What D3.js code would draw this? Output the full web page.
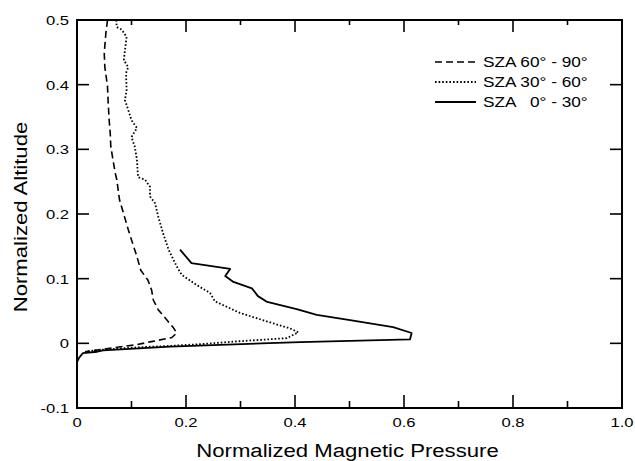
<!DOCTYPE html>
<html>
<head>
<meta charset="utf-8">
<script src="https://cdn.jsdelivr.net/npm/d3@7"></script>
<style>
  html, body { margin: 0; padding: 0; background: #fff; }
  svg { display: block; }
  text { font-family: "Liberation Sans", Arial, Helvetica, sans-serif; fill: #000; }
</style>
</head>
<body>
<svg id="chart" width="635" height="461"></svg>
<script>
// ---------------- data (normalized pressure, normalized altitude) ----------------
const sza6090 = [
  [0.056,0.500],[0.053,0.480],[0.050,0.449],[0.051,0.428],[0.056,0.397],[0.057,0.376],
  [0.059,0.345],[0.061,0.325],[0.062,0.304],[0.066,0.284],[0.070,0.264],[0.073,0.253],
  [0.078,0.222],[0.085,0.202],[0.094,0.176],[0.100,0.160],[0.110,0.134],[0.117,0.113],
  [0.130,0.098],[0.137,0.082],[0.140,0.067],[0.149,0.052],[0.165,0.036],[0.177,0.024],
  [0.183,0.016],[0.174,0.009],[0.139,0.003],[0.110,-0.002],[0.048,-0.009],[0.015,-0.013]
];
const sza3060 = [
  [0.072,0.500],[0.073,0.489],[0.082,0.485],[0.091,0.474],[0.088,0.453],[0.086,0.438],
  [0.094,0.427],[0.090,0.418],[0.091,0.392],[0.088,0.376],[0.094,0.361],[0.100,0.345],
  [0.110,0.333],[0.100,0.319],[0.106,0.304],[0.110,0.284],[0.112,0.257],[0.125,0.253],
  [0.134,0.242],[0.134,0.227],[0.143,0.217],[0.149,0.196],[0.158,0.170],[0.168,0.145],
  [0.183,0.119],[0.192,0.106],[0.220,0.090],[0.244,0.078],[0.253,0.065],[0.299,0.047],
  [0.348,0.034],[0.391,0.023],[0.406,0.017],[0.385,0.008],[0.293,0.003],[0.231,-0.001],
  [0.171,-0.004],[0.116,-0.006],[0.042,-0.010],[0.015,-0.013]
];
const sza0030 = [
  [0.189,0.145],[0.210,0.124],[0.281,0.115],[0.272,0.104],[0.287,0.095],[0.321,0.085],
  [0.332,0.073],[0.349,0.064],[0.403,0.053],[0.440,0.044],[0.501,0.036],[0.580,0.025],
  [0.614,0.016],[0.611,0.006],[0.409,0.002],[0.171,-0.005],[0.048,-0.011],[0.037,-0.013],
  [0.011,-0.015],[0.004,-0.022],[0.000,-0.029]
];
const seriesNames = ["SZA 60\u00b0 - 90\u00b0", "SZA 30\u00b0 - 60\u00b0", "SZA \u20070\u00b0 - 30\u00b0"];
const xTicks = [0, 0.1, 0.2, 0.3, 0.4, 0.5, 0.6, 0.7, 0.8, 0.9, 1.0];
const xTickLabels = ["0", "", "0.2", "", "0.4", "", "0.6", "", "0.8", "", "1.0"];
const yTicks = [-0.1, 0, 0.1, 0.2, 0.3, 0.4, 0.5];
const yTickLabels = ["-0.1", "0", "0.1", "0.2", "0.3", "0.4", "0.5"];
const xTitle = "Normalized Magnetic Pressure";
const yTitle = "Normalized Altitude";

// ---------------- layout ----------------
const L = 77, R = 622, T = 20, B = 408;
const SX = 1.23; // horizontal stretch of the lettering
const svg = d3.select("#chart");
svg.append("rect").attr("width", 635).attr("height", 461).attr("fill", "#fff");

const x = d3.scaleLinear().domain([0, 1]).range([L, R]);
const y = d3.scaleLinear().domain([-0.1, 0.5]).range([B, T]);

function stext(px, py, str, size, anchor, rot) {
  return svg.append("text")
    .attr("transform", `translate(${px},${py}) rotate(${rot || 0}) scale(${SX},1)`)
    .attr("text-anchor", anchor)
    .style("font-size", size + "px")
    .style("white-space", "pre")
    .text(str);
}

// ---------------- ticks (inward, on all four sides) ----------------
const isMajorX = (d, i) => i % 2 === 0;
const tk = svg.append("g").attr("stroke", "#000").attr("stroke-width", 1.6);
xTicks.forEach((d, i) => {
  const len = isMajorX(d, i) ? 13 : 7;
  const lenTop = isMajorX(d, i) ? 12 : 5;
  tk.append("line").attr("x1", x(d)).attr("x2", x(d)).attr("y1", B).attr("y2", B - len);
  tk.append("line").attr("x1", x(d)).attr("x2", x(d)).attr("y1", T).attr("y2", T + lenTop);
});
yTicks.forEach(d => {
  tk.append("line").attr("x1", L).attr("x2", L + 12).attr("y1", y(d)).attr("y2", y(d));
  tk.append("line").attr("x1", R).attr("x2", R - 12).attr("y1", y(d)).attr("y2", y(d));
});

// frame
svg.append("rect").attr("x", L).attr("y", T).attr("width", R - L).attr("height", B - T)
  .attr("fill", "none").attr("stroke", "#000").attr("stroke-width", 2);

// tick labels
xTicks.forEach((d, i) => { if (xTickLabels[i]) stext(x(d), 427, xTickLabels[i], 13.5, "middle"); });
yTicks.forEach((d, i) => stext(69, y(d) + 5, yTickLabels[i], 13.5, "end"));

// axis titles
stext((L + R) / 2 - 2, 457, xTitle, 18, "middle");
stext(27, 217, yTitle, 18, "middle", -90);

// ---------------- curves ----------------
const line = d3.line().x(d => x(d[0])).y(d => y(d[1]));
const styles = [
  { data: sza6090, dash: "7,4", w: 1.6 },
  { data: sza3060, dash: "1.6,2", w: 1.8 },
  { data: sza0030, dash: null, w: 1.8 }
];
styles.forEach(s => {
  svg.append("path").datum(s.data).attr("d", line)
    .attr("fill", "none").attr("stroke", "#000").attr("stroke-width", s.w)
    .attr("stroke-linejoin", "round")
    .attr("stroke-dasharray", s.dash);
});

// ---------------- legend ----------------
const legY = [62, 82, 102];
styles.forEach((s, i) => {
  svg.append("line").attr("x1", 435).attr("x2", 476).attr("y1", legY[i]).attr("y2", legY[i])
    .attr("stroke", "#000").attr("stroke-width", s.w).attr("stroke-dasharray", s.dash);
  stext(483, legY[i] + 5, seriesNames[i], 14, "start");
});
</script>
</body>
</html>
